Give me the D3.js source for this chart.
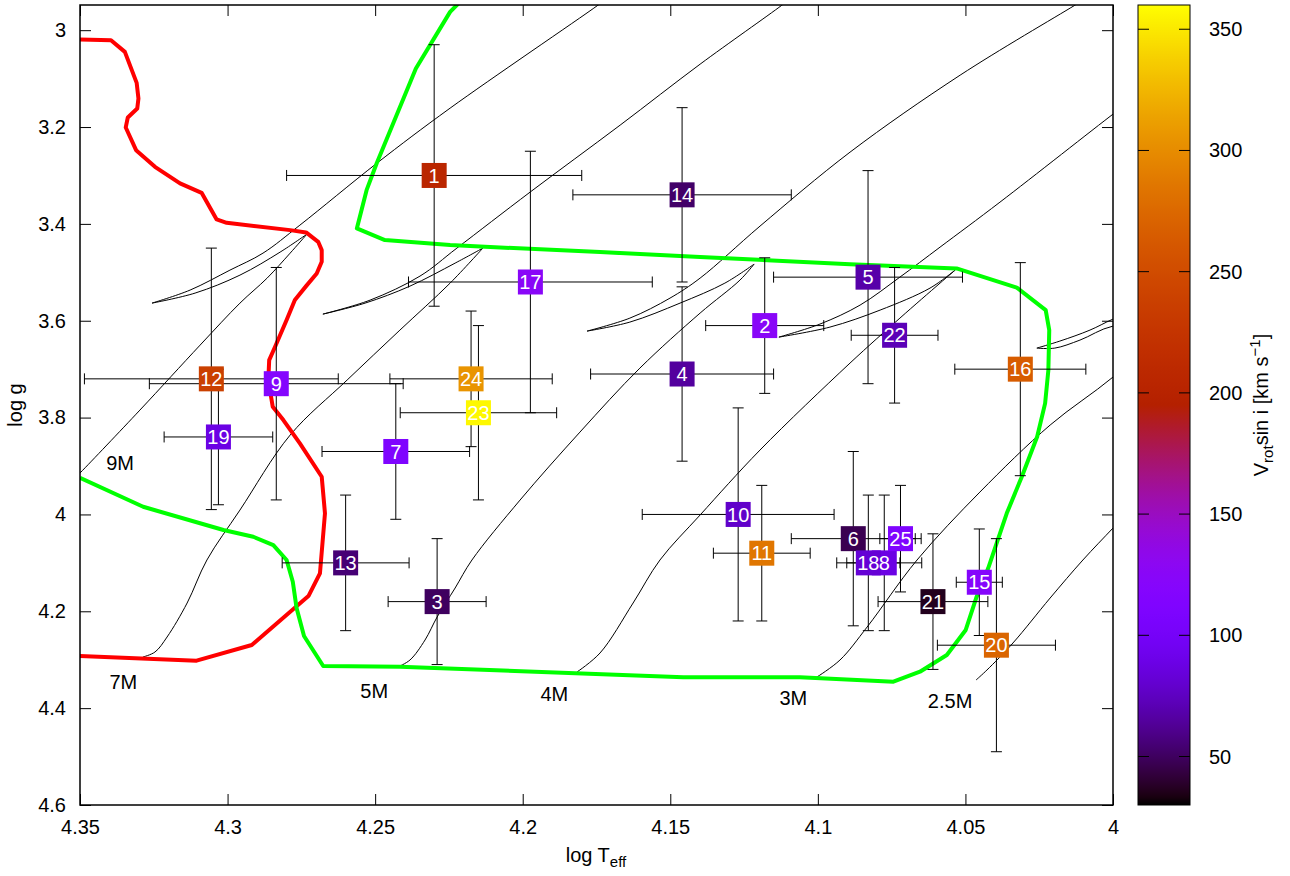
<!DOCTYPE html>
<html>
<head>
<meta charset="utf-8">
<script src="https://cdn.jsdelivr.net/npm/d3@7"></script>
<style>
body { margin: 0; background: #fff; }
text { font-family: "Liberation Sans", Arial, sans-serif; }
</style>
</head>
<body>
<svg id="main_svg" width="1290" height="876"></svg>
<script>
// ---- stars : log Teff, log g, errors, vsini ----
var star_id      = [1, 2, 3, 4, 5, 6, 7, 8, 9, 10, 11, 12, 13, 14, 15, 16, 17, 18, 19, 20, 21, 22, 23, 24, 25];
var log_teff     = [4.230, 4.118, 4.229, 4.146, 4.083, 4.088, 4.243, 4.0775, 4.2835, 4.127, 4.119, 4.3055, 4.260, 4.146, 4.0453, 4.0314, 4.1974, 4.0829, 4.3031, 4.0395, 4.061, 4.074, 4.215, 4.2175, 4.072];
var log_teff_err = [0.050, 0.020, 0.0166, 0.031, 0.032, 0.021, 0.025, 0.0127, 0.043, 0.0325, 0.0164, 0.043, 0.0215, 0.037, 0.0078, 0.0222, 0.0413, 0.0107, 0.0184, 0.020, 0.0186, 0.0147, 0.0265, 0.0275, 0.007];
var log_g        = [3.30, 3.61, 4.18, 3.71, 3.51, 4.05, 3.87, 4.10, 3.73, 4.00, 4.08, 3.72, 4.10, 3.34, 4.14, 3.70, 3.52, 4.10, 3.84, 4.27, 4.18, 3.63, 3.79, 3.72, 4.05];
var log_g_err    = [0.27, 0.14, 0.13, 0.18, 0.22, 0.18, 0.14, 0.14, 0.24, 0.22, 0.14, 0.27, 0.14, 0.18, 0.11, 0.22, 0.27, 0.14, 0.14, 0.22, 0.14, 0.14, 0.18, 0.14, 0.11];
var vsini        = [205, 125, 50, 65, 68, 47, 112, 88, 118, 78, 285, 238, 55, 52, 120, 265, 125, 82, 88, 272, 36, 72, 357, 305, 112];

// ---- evolutionary tracks [log Teff, log g] : main sequence, hook, crossing ----
var track_9M = [[4.3534,3.9352],[4.35,3.9145],[4.3297,3.7845],[4.3093,3.6503],[4.2958,3.5636],[4.2866,3.512],[4.2788,3.4604],[4.2731,3.4211],
  [4.2822,3.4583],[4.2958,3.5058],[4.311,3.5429],[4.3256,3.5636],
  [4.3127,3.5367],[4.2992,3.4955],[4.288,3.4604],[4.2755,3.4026],[4.2494,3.2746],[4.2246,3.161],[4.1745,2.9484],[4.1704,2.9298]];
var track_7M = [[4.3287,4.2944],[4.3246,4.2841],[4.3205,4.2531],[4.3137,4.1829],[4.307,4.0941],[4.2958,3.9909],[4.2788,3.8361],[4.2595,3.7225],[4.2416,3.6193],[4.2246,3.5223],[4.2135,3.45],
  [4.2229,3.481],[4.2382,3.5285],[4.2534,3.5636],[4.2677,3.5863],
  [4.2517,3.5574],[4.2348,3.5078],[4.2223,3.45],[4.1975,3.3344],[4.167,3.1961],[4.1399,3.0702],[4.1122,2.9484],[4.1088,2.9319]];
var track_5M = [[4.2423,4.315],[4.2382,4.3006],[4.2331,4.2593],[4.229,4.2118],[4.2229,4.1519],[4.2172,4.0941],[4.2009,3.9703],[4.1806,3.8299],[4.1603,3.6978],[4.1399,3.5842],[4.1264,3.5161],[4.1216,3.4831],
  [4.1315,3.5223],[4.1467,3.5636],[4.1637,3.6028],[4.1782,3.6214],
  [4.1637,3.5946],[4.1501,3.5533],[4.1399,3.512],[4.1196,3.4046],[4.0891,3.2519],[4.0518,3.0929],[4.0129,2.9484],[4.0085,2.9319]];
var track_4M = [[4.1816,4.3253],[4.1738,4.2861],[4.1626,4.1829],[4.1535,4.0941],[4.1399,4.0012],[4.1196,3.867],[4.0891,3.6874],[4.0722,3.5946],[4.0586,3.5223],[4.0535,3.4955],
  [4.062,3.5326],[4.0789,3.578],[4.0959,3.6131],[4.1132,3.6338],
  [4.0993,3.6069],[4.0857,3.5677],[4.0722,3.5099],[4.0586,3.448],[4.0383,3.3551],[4.0,3.1734],[3.9959,3.1548]];
var track_3M = [[4.1003,4.3357],[4.0925,4.3006],[4.0833,4.2324],[4.0664,4.0941],[4.0451,3.9538],[4.0213,3.8154],[4.0,3.7163],[3.9807,3.609],
  [4.0,3.6111],[4.0112,3.64],[4.0197,3.6565],[4.0258,3.6565],
  [4.018,3.642],[4.0078,3.6193],[4.0,3.5966],[3.9841,3.5574]];
var track_2p5M = [[4.0464,4.3419],[4.0427,4.3212],[4.0339,4.2655],[4.0213,4.1726],[4.0102,4.0941],[4.0,4.0281],[3.9942,3.9909]];
// index of the end of main sequence and of the hook in each track
var track_breaks = [[7, 11], [10, 14], [11, 15], [9, 13], [7, 11], []];

var mass_labels = ["9M", "7M", "5M", "4M", "3M", "2.5M"];
var mass_label_teff = [4.3364, 4.3353, 4.2503, 4.1893, 4.1083, 4.0552];
var mass_label_logg = [3.893, 4.345, 4.364, 4.371, 4.380, 4.385];

// thick boundary lines
var red_line = [[4.35,3.0192],[4.3395,3.0206],[4.3348,3.0448],[4.3308,3.1088],[4.3302,3.141],[4.3306,3.1616],[4.3338,3.1802],[4.3345,3.2009],
  [4.331,3.2477],[4.3246,3.2822],[4.3161,3.3165],[4.3088,3.3359],[4.3037,3.3908],[4.3003,3.3978],[4.2788,3.4129],[4.2734,3.4176],
  [4.2693,3.437],[4.2681,3.4542],[4.2681,3.4783],[4.2698,3.5023],[4.2734,3.5285],[4.2772,3.5574],[4.28,3.5987],[4.2839,3.6538],
  [4.2859,3.6813],[4.2862,3.7225],[4.2847,3.7777],[4.2811,3.8051],[4.2755,3.8532],[4.2681,3.9222],[4.267,3.9977],[4.2687,4.1216],
  [4.2726,4.1685],[4.2918,4.2696],[4.3105,4.302],[4.35,4.2923]];
var green_line = [[4.221,2.94],[4.2246,2.9622],[4.2362,3.0791],[4.2495,3.2752],[4.2529,3.3303],[4.2562,3.4094],[4.2467,3.4335],[4.2246,3.4438],
  [4.1738,3.4583],[4.1399,3.4686],[4.0891,3.4831],[4.053,3.4919],[4.0326,3.5316],[4.0228,3.578],[4.0216,3.6193],[4.0219,3.7019],
  [4.023,3.7707],[4.0257,3.8396],[4.0309,3.9222],[4.036,3.9977],[4.0423,4.1113],[4.0462,4.1699],[4.0499,4.2386],[4.0563,4.2903],
  [4.0654,4.3247],[4.0744,4.3453],[4.1061,4.3363],[4.1456,4.3363],[4.2416,4.3144],[4.2676,4.313],[4.2741,4.251],[4.2766,4.1939],
  [4.2779,4.1389],[4.28,4.0941],[4.2845,4.0632],[4.2913,4.0461],[4.3014,4.0322],[4.3286,3.9841],[4.35,3.9242]];

var x_ticks = [4.35, 4.3, 4.25, 4.2, 4.15, 4.1, 4.05, 4.0];
var y_ticks = [3, 3.2, 3.4, 3.6, 3.8, 4, 4.2, 4.4, 4.6];
var cb_ticks = [50, 100, 150, 200, 250, 300, 350];
var cb_min = 30, cb_max = 360;

var svg = d3.select("#main_svg");
var plot_left = 80, plot_right = 1113, plot_top = 5, plot_bottom = 805;

var x_scale = d3.scaleLinear().domain([4.35, 4.0]).range([plot_left, plot_right]);
var y_scale = d3.scaleLinear().domain([2.948, 4.6]).range([plot_top, plot_bottom]);
var cb_scale = d3.scaleLinear().domain([cb_min, cb_max]).range([plot_bottom, plot_top]);

// gnuplot default palette (rgbformulae 7,5,15)
function palette(v) {
	var t = Math.max(0, Math.min(1, (v - cb_min) / (cb_max - cb_min)));
	var r = Math.sqrt(t), g = t * t * t, b = Math.max(0, Math.sin(2 * Math.PI * t));
	return d3.rgb(r * 255, g * 255, b * 255).toString();
}

svg.append("defs").append("clipPath").attr("id", "plot_clip")
  .append("rect")
  .attr("x", plot_left).attr("y", plot_top)
  .attr("width", plot_right - plot_left).attr("height", plot_bottom - plot_top);

var plot_g = svg.append("g").attr("clip-path", "url(#plot_clip)");

var line = d3.line()
  .x(d => x_scale(d[0]))
  .y(d => y_scale(d[1]));
var smooth_line = d3.line()
  .x(d => x_scale(d[0]))
  .y(d => y_scale(d[1]))
  .curve(d3.curveCatmullRom.alpha(0.5));

// tracks, each piece smoothed on its own so the tips stay sharp
var tracks = [track_9M, track_7M, track_5M, track_4M, track_3M, track_2p5M];
var pieces = [];
tracks.forEach(function(tr, i) {
	var cuts = [0].concat(track_breaks[i]).concat([tr.length - 1]);
	for (var k = 0; k < cuts.length - 1; k++)
		pieces.push(tr.slice(cuts[k], cuts[k + 1] + 1));
});
plot_g.selectAll(".track")
  .data(pieces)
  .enter().append("path")
  .attr("class", "track")
  .attr("d", smooth_line)
  .style("fill", "none")
  .style("stroke", "#000")
  .style("stroke-width", 1);

plot_g.append("path")
  .attr("d", line(red_line))
  .style("fill", "none").style("stroke", "#ff0000").style("stroke-width", 4)
  .style("stroke-linejoin", "round");
plot_g.append("path")
  .attr("d", line(green_line))
  .style("fill", "none").style("stroke", "#00ff00").style("stroke-width", 4)
  .style("stroke-linejoin", "round");

// mass labels
svg.selectAll(".mass_label")
  .data(mass_labels)
  .enter().append("text")
  .attr("class", "mass_label")
  .attr("x", (d, i) => x_scale(mass_label_teff[i]))
  .attr("y", (d, i) => y_scale(mass_label_logg[i]) + 7)
  .attr("text-anchor", "middle")
  .style("font-size", "20px")
  .text(d => d);

// error bars
var stars = star_id.map((id, i) => ({
	id: id, t: log_teff[i], dt: log_teff_err[i], g: log_g[i], dg: log_g_err[i], v: vsini[i]
}));
var cap = 5.5;
var err_g = plot_g.append("g").style("stroke", "#000").style("stroke-width", 1);
stars.forEach(function(s) {
	var cx = x_scale(s.t), cy = y_scale(s.g);
	var x0 = x_scale(s.t + s.dt), x1 = x_scale(s.t - s.dt);
	var y0 = y_scale(s.g - s.dg), y1 = y_scale(s.g + s.dg);
	err_g.append("line").attr("x1", x0).attr("x2", x1).attr("y1", cy).attr("y2", cy);
	err_g.append("line").attr("x1", x0).attr("x2", x0).attr("y1", cy - cap).attr("y2", cy + cap);
	err_g.append("line").attr("x1", x1).attr("x2", x1).attr("y1", cy - cap).attr("y2", cy + cap);
	err_g.append("line").attr("x1", cx).attr("x2", cx).attr("y1", y0).attr("y2", y1);
	err_g.append("line").attr("x1", cx - cap).attr("x2", cx + cap).attr("y1", y0).attr("y2", y0);
	err_g.append("line").attr("x1", cx - cap).attr("x2", cx + cap).attr("y1", y1).attr("y2", y1);
});

// boxes, then labels on top
var box = 25;
svg.selectAll(".star_box")
  .data(stars)
  .enter().append("rect")
  .attr("class", "star_box")
  .attr("x", d => x_scale(d.t) - box / 2)
  .attr("y", d => y_scale(d.g) - box / 2)
  .attr("width", box).attr("height", box)
  .style("fill", d => palette(d.v));
svg.selectAll(".star_label")
  .data(stars)
  .enter().append("text")
  .attr("class", "star_label")
  .attr("x", d => x_scale(d.t))
  .attr("y", d => y_scale(d.g) + 7.2)
  .attr("text-anchor", "middle")
  .style("font-size", "20px")
  .style("fill", "#fff")
  .text(d => d.id);

// axes, ticks inward and mirrored
function style_axis(g) {
	g.select(".domain").remove();
	g.selectAll(".tick line").style("stroke", "#000").style("stroke-width", 1);
	g.selectAll(".tick text").style("font-size", "20px").style("fill", "#000")
	  .style("font-family", "'Liberation Sans', Arial, sans-serif");
}
var fmt = d => String(+d.toFixed(2));
svg.append("g").attr("transform", "translate(0," + plot_bottom + ")")
  .call(d3.axisBottom(x_scale).tickValues(x_ticks).tickFormat(fmt).tickSize(-11).tickPadding(15))
  .call(style_axis);
svg.append("g").attr("transform", "translate(0," + plot_top + ")")
  .call(d3.axisTop(x_scale).tickValues(x_ticks).tickFormat("").tickSize(-11))
  .call(style_axis);
svg.append("g").attr("transform", "translate(" + plot_left + ",0)")
  .call(d3.axisLeft(y_scale).tickValues(y_ticks).tickFormat(fmt).tickSize(-11).tickPadding(14))
  .call(style_axis);
svg.append("g").attr("transform", "translate(" + plot_right + ",0)")
  .call(d3.axisRight(y_scale).tickValues(y_ticks).tickFormat("").tickSize(-11))
  .call(style_axis);

svg.append("rect")
  .attr("x", plot_left).attr("y", plot_top)
  .attr("width", plot_right - plot_left).attr("height", plot_bottom - plot_top)
  .style("fill", "none").style("stroke", "#000").style("stroke-width", 1.5);

// axis titles
svg.append("text")
  .attr("transform", "translate(22,405) rotate(-90)")
  .attr("text-anchor", "middle")
  .style("font-size", "20px")
  .text("log g");
var xt = svg.append("text")
  .attr("x", 596).attr("y", 862)
  .attr("text-anchor", "middle")
  .style("font-size", "20px");
xt.append("tspan").text("log T");
xt.append("tspan").attr("dy", 5).style("font-size", "15px").text("eff");

// colour bar
var cb_left = 1138, cb_width = 52;
var grad = svg.select("defs").append("linearGradient")
  .attr("id", "cb_grad")
  .attr("x1", 0).attr("y1", 1).attr("x2", 0).attr("y2", 0);
grad.selectAll("stop")
  .data(d3.range(0, 1.0001, 0.01))
  .enter().append("stop")
  .attr("offset", d => d)
  .attr("stop-color", d => palette(cb_min + d * (cb_max - cb_min)));
svg.append("rect")
  .attr("x", cb_left).attr("y", plot_top)
  .attr("width", cb_width).attr("height", plot_bottom - plot_top)
  .style("fill", "url(#cb_grad)")
  .style("stroke", "#000").style("stroke-width", 1);

var cb_g = svg.append("g");
cb_ticks.forEach(function(v) {
	var yy = cb_scale(v);
	cb_g.append("line").attr("x1", cb_left).attr("x2", cb_left + 11).attr("y1", yy).attr("y2", yy)
	  .style("stroke", "#000").style("stroke-width", 1);
	cb_g.append("line").attr("x1", cb_left + cb_width - 11).attr("x2", cb_left + cb_width).attr("y1", yy).attr("y2", yy)
	  .style("stroke", "#000").style("stroke-width", 1);
	cb_g.append("text").attr("x", 1209).attr("y", yy + 7)
	  .style("font-size", "20px").text(v);
});

var cb_title = svg.append("text")
  .attr("transform", "translate(1268,405) rotate(-90)")
  .attr("text-anchor", "middle")
  .style("font-size", "20px");
cb_title.append("tspan").text("V");
cb_title.append("tspan").attr("dy", 5).style("font-size", "15px").text("rot");
cb_title.append("tspan").attr("dy", -5).text("sin i [km s");
cb_title.append("tspan").attr("dy", -8).style("font-size", "15px").text("\u22121");
cb_title.append("tspan").attr("dy", 8).text("]");
</script>
</body>
</html>
